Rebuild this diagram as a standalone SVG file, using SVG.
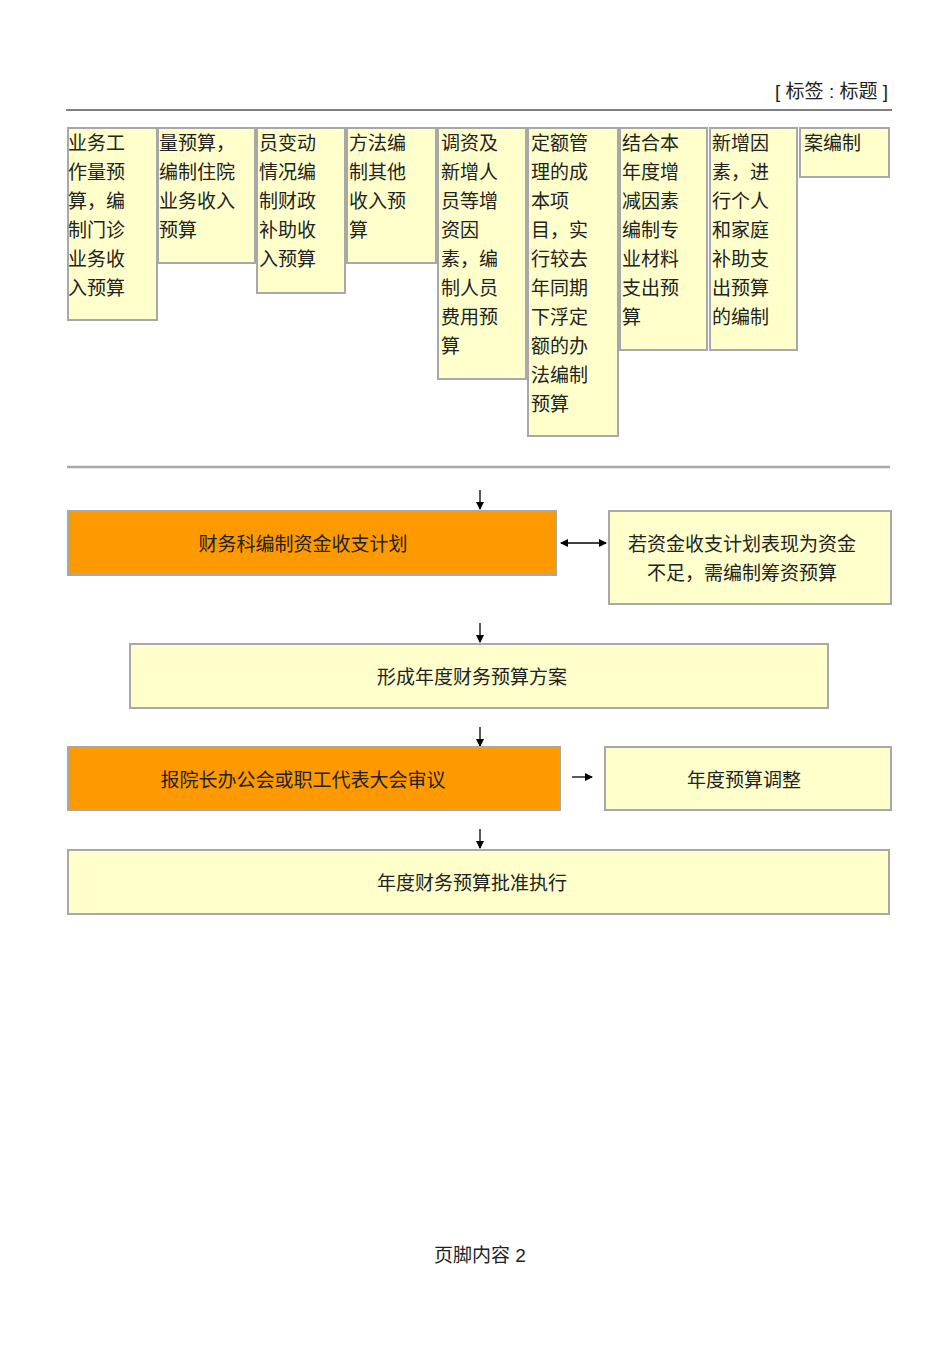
<svg xmlns="http://www.w3.org/2000/svg" width="950" height="1345" viewBox="0 0 950 1345">
<style>
text{font-family:"Liberation Sans","Noto Sans CJK SC",sans-serif;fill:#222}
.b{fill:#ffffcc;stroke:#a8a8a8;stroke-width:2}
.o{fill:#ff9900;stroke:#a8a8a8;stroke-width:2}
.t{font-size:19px}
.c{font-size:19px;text-anchor:middle}
.ln{stroke:#000;stroke-width:1.3;fill:none}
</style>
<defs><marker id="a" markerWidth="8" markerHeight="8" refX="7" refY="4" orient="auto" markerUnits="userSpaceOnUse"><path d="M0,0L8,4L0,8z" fill="#000"/></marker>
<marker id="s" markerWidth="8" markerHeight="8" refX="1" refY="4" orient="auto" markerUnits="userSpaceOnUse"><path d="M8,0L0,4L8,8z" fill="#000"/></marker></defs>
<text x="888" y="98" font-size="19" text-anchor="end">[ 标签 : 标题 ]</text>
<line x1="66" y1="110" x2="892" y2="110" stroke="#000" stroke-width="1"/>
<g id="top">
<g id="n1"><rect class="b" x="68" y="128" width="89" height="192"/><text class="t" x="68" y="150"><tspan x="68">业务工</tspan><tspan x="68" dy="29">作量预</tspan><tspan x="68" dy="29">算，编</tspan><tspan x="68" dy="29">制门诊</tspan><tspan x="68" dy="29">业务收</tspan><tspan x="68" dy="29">入预算</tspan></text></g>
<g id="n2"><rect class="b" x="158" y="128" width="97" height="135"/><text class="t" x="159" y="150"><tspan x="159">量预算，</tspan><tspan x="159" dy="29">编制住院</tspan><tspan x="159" dy="29">业务收入</tspan><tspan x="159" dy="29">预算</tspan></text></g>
<g id="n3"><rect class="b" x="257" y="128" width="88" height="165"/><text class="t" x="259" y="150"><tspan x="259">员变动</tspan><tspan x="259" dy="29">情况编</tspan><tspan x="259" dy="29">制财政</tspan><tspan x="259" dy="29">补助收</tspan><tspan x="259" dy="29">入预算</tspan></text></g>
<g id="n4"><rect class="b" x="347" y="128" width="89" height="135"/><text class="t" x="349" y="150"><tspan x="349">方法编</tspan><tspan x="349" dy="29">制其他</tspan><tspan x="349" dy="29">收入预</tspan><tspan x="349" dy="29">算</tspan></text></g>
<g id="n5"><rect class="b" x="438" y="128" width="88" height="251"/><text class="t" x="441" y="150"><tspan x="441">调资及</tspan><tspan x="441" dy="29">新增人</tspan><tspan x="441" dy="29">员等增</tspan><tspan x="441" dy="29">资因</tspan><tspan x="441" dy="29">素，编</tspan><tspan x="441" dy="29">制人员</tspan><tspan x="441" dy="29">费用预</tspan><tspan x="441" dy="29">算</tspan></text></g>
<g id="n6"><rect class="b" x="528" y="128" width="90" height="308"/><text class="t" x="531" y="150"><tspan x="531">定额管</tspan><tspan x="531" dy="29">理的成</tspan><tspan x="531" dy="29">本项</tspan><tspan x="531" dy="29">目，实</tspan><tspan x="531" dy="29">行较去</tspan><tspan x="531" dy="29">年同期</tspan><tspan x="531" dy="29">下浮定</tspan><tspan x="531" dy="29">额的办</tspan><tspan x="531" dy="29">法编制</tspan><tspan x="531" dy="29">预算</tspan></text></g>
<g id="n7"><rect class="b" x="620" y="128" width="87" height="222"/><text class="t" x="622" y="150"><tspan x="622">结合本</tspan><tspan x="622" dy="29">年度增</tspan><tspan x="622" dy="29">减因素</tspan><tspan x="622" dy="29">编制专</tspan><tspan x="622" dy="29">业材料</tspan><tspan x="622" dy="29">支出预</tspan><tspan x="622" dy="29">算</tspan></text></g>
<g id="n8"><rect class="b" x="710" y="128" width="87" height="222"/><text class="t" x="712" y="150"><tspan x="712">新增因</tspan><tspan x="712" dy="29">素，进</tspan><tspan x="712" dy="29">行个人</tspan><tspan x="712" dy="29">和家庭</tspan><tspan x="712" dy="29">补助支</tspan><tspan x="712" dy="29">出预算</tspan><tspan x="712" dy="29">的编制</tspan></text></g>
<g id="n9"><rect class="b" x="800" y="128" width="89" height="49"/><text class="t" x="804" y="150">案编制</text></g>
</g>
<line x1="67" y1="467" x2="890" y2="467" stroke="#a8a8a8" stroke-width="2.5"/>
<g id="connectors">
<line class="ln" x1="480" y1="490" x2="480" y2="509" marker-end="url(#a)"/>
<line class="ln" x1="561" y1="543" x2="606" y2="543" marker-start="url(#s)" marker-end="url(#a)"/>
<line class="ln" x1="480" y1="623" x2="480" y2="642" marker-end="url(#a)"/>
<line class="ln" x1="480" y1="727" x2="480" y2="746" marker-end="url(#a)"/>
<line class="ln" x1="572" y1="777" x2="592" y2="777" marker-end="url(#a)"/>
<line class="ln" x1="480" y1="829" x2="480" y2="848" marker-end="url(#a)"/>
</g>
<g id="f1"><rect class="o" x="68" y="511" width="488" height="64"/><text class="c" x="303" y="551">财务科编制资金收支计划</text></g>
<g id="f2"><rect class="b" x="609" y="511" width="282" height="93"/><text class="c" x="742" y="551">若资金收支计划表现为资金</text><text class="c" x="742" y="580">不足，需编制筹资预算</text></g>
<g id="f3"><rect class="b" x="130" y="644" width="698" height="64"/><text class="c" x="472" y="684">形成年度财务预算方案</text></g>
<g id="f4"><rect class="o" x="68" y="747" width="492" height="63"/><text class="c" x="303" y="787">报院长办公会或职工代表大会审议</text></g>
<g id="f5"><rect class="b" x="605" y="747" width="286" height="63"/><text class="c" x="744" y="787">年度预算调整</text></g>
<g id="f6"><rect class="b" x="68" y="850" width="821" height="64"/><text class="c" x="472" y="890">年度财务预算批准执行</text></g>
<text x="480" y="1262" font-size="19" text-anchor="middle">页脚内容 2</text>
</svg>
